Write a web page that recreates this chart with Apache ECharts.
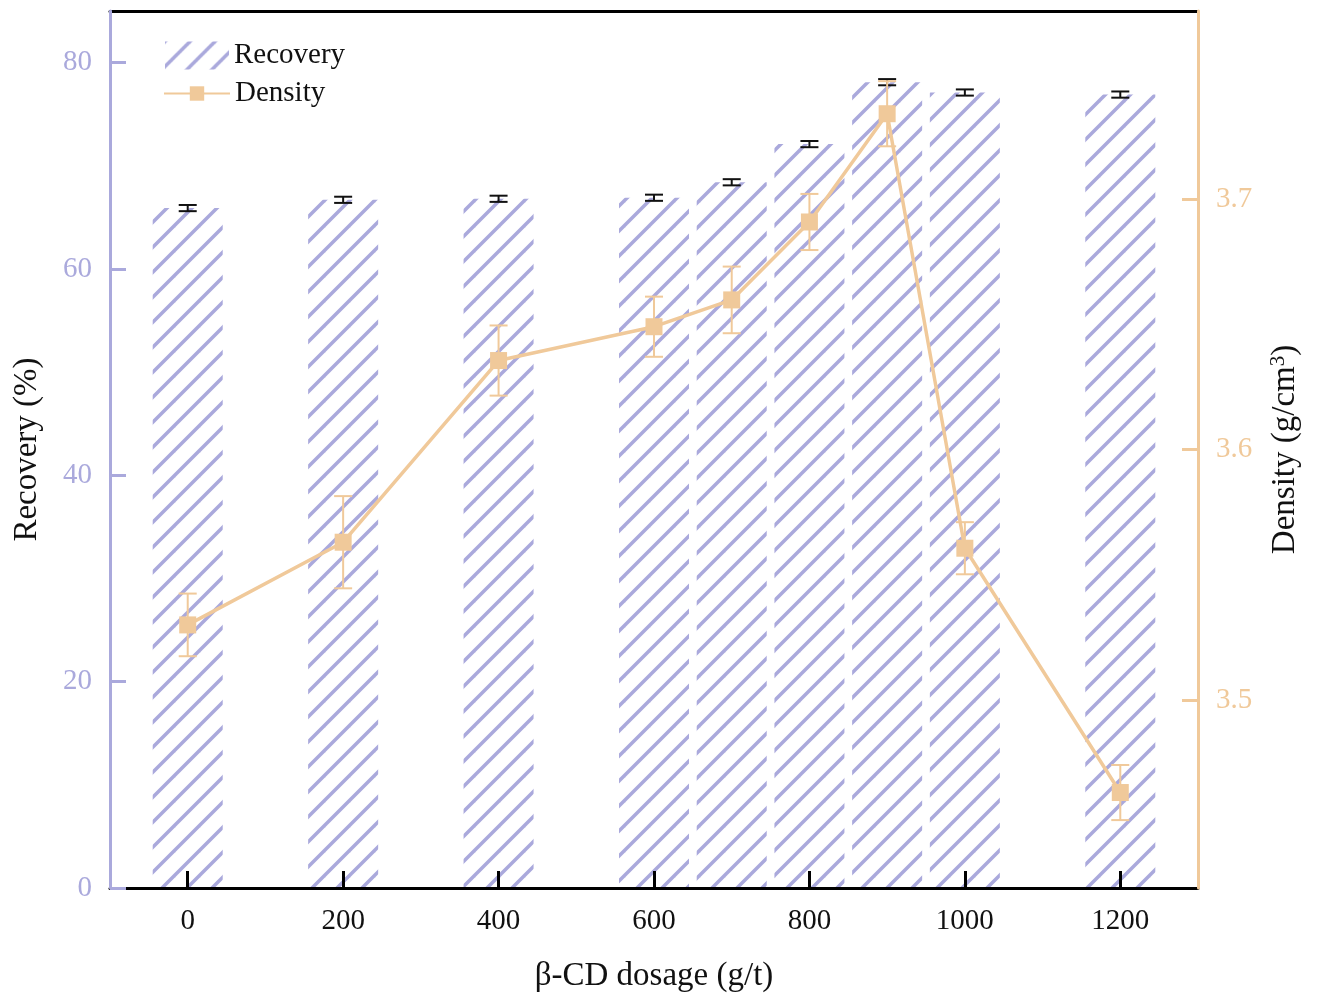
<!DOCTYPE html>
<html>
<head>
<meta charset="utf-8">
<script src="https://cdn.jsdelivr.net/npm/echarts@6/dist/echarts.min.js"></script>
<style>
html,body{margin:0;padding:0;background:#fff;}
#main{width:1319px;height:995px;}
</style>
</head>
<body>
<div id="main"></div>
<script>
const doses = [0, 200, 400, 600, 700, 800, 900, 1000, 1200];
const recovery = [65.9, 66.7, 66.8, 66.9, 68.4, 72.1, 78.1, 77.1, 76.9];
const recoveryErr = [0.3, 0.3, 0.3, 0.3, 0.3, 0.3, 0.3, 0.3, 0.3];
const density = [3.530, 3.563, 3.6355, 3.649, 3.6597, 3.6908, 3.734, 3.5606, 3.4631];
const densityErr = [0.0125, 0.0184, 0.014, 0.012, 0.0133, 0.0112, 0.013, 0.0104, 0.011];
const xTicks = [0, 200, 400, 600, 800, 1000, 1200];
const recoveryTicks = [0, 20, 40, 60, 80];
const densityTicks = [3.5, 3.6, 3.7];

const PURPLE = '#AAA9DC';
const TAN = '#F0C99A';
const FONT = 'Liberation Serif';

function makeHatch() {
  const S = 25;
  const c = document.createElement('canvas');
  c.width = S; c.height = S;
  const ctx = c.getContext('2d');
  ctx.strokeStyle = PURPLE;
  ctx.lineWidth = 3.5;
  ctx.lineCap = 'butt';
  for (let k = -1; k <= 1; k++) {
    ctx.beginPath();
    ctx.moveTo(k * S - 2, S + 2);
    ctx.lineTo(k * S + S + 2, -2);
    ctx.stroke();
  }
  return c;
}
const hatch = { image: makeHatch(), repeat: 'repeat' };

const barData = doses.map((d, i) => [d, recovery[i]]);
const lineData = doses.map((d, i) => [d, density[i]]);
const recErrData = doses.map((d, i) => [d, recovery[i] - recoveryErr[i], recovery[i] + recoveryErr[i]]);
const denErrData = doses.map((d, i) => [d, density[i] - densityErr[i], density[i] + densityErr[i]]);

function errRender(color, hw, lw) {
  return function (params, api) {
    const x = api.value(0);
    const p1 = api.coord([x, api.value(2)]);
    const p2 = api.coord([x, api.value(1)]);
    const st = { stroke: color, lineWidth: lw };
    return {
      type: 'group',
      children: [
        { type: 'line', shape: { x1: p1[0], y1: p1[1], x2: p2[0], y2: p2[1] }, style: st },
        { type: 'line', shape: { x1: p1[0] - hw, y1: p1[1], x2: p1[0] + hw, y2: p1[1] }, style: st },
        { type: 'line', shape: { x1: p2[0] - hw, y1: p2[1], x2: p2[0] + hw, y2: p2[1] }, style: st }
      ]
    };
  };
}

const chart = echarts.init(document.getElementById('main'), null, { renderer: 'canvas' });
chart.setOption({
  backgroundColor: '#fff',
  animation: false,
  textStyle: { fontFamily: FONT },
  grid: { left: 110, right: 121, top: 11, bottom: 107, containLabel: false, outerBoundsMode: 'none' },
  legend: [
    {
      data: [{ name: 'Recovery', icon: 'rect' }],
      left: 160, top: 36,
      itemWidth: 64, itemHeight: 28, itemGap: 10,
      textStyle: { fontFamily: FONT, fontSize: 29, color: '#111' }
    },
    {
      data: ['Density'],
      left: 158, top: 74,
      itemWidth: 66, itemHeight: 18, itemGap: 10,
      textStyle: { fontFamily: FONT, fontSize: 29, color: '#111' }
    }
  ],
  xAxis: [
    {
      type: 'value', min: -100, max: 1300, position: 'bottom', z: 2,
      name: 'β-CD dosage (g/t)', nameLocation: 'middle', nameGap: 72,
      nameTextStyle: { fontFamily: FONT, fontSize: 33, color: '#111' },
      axisLine: { show: true, onZero: false, lineStyle: { color: '#000', width: 3 } },
      axisTick: { show: true, inside: true, length: 17, customValues: xTicks, lineStyle: { color: '#000', width: 3 } },
      axisLabel: { customValues: xTicks, margin: 19, fontFamily: FONT, fontSize: 29, color: '#111', formatter: v => String(v) },
      splitLine: { show: false }
    },
    {
      type: 'value', min: -100, max: 1300, position: 'top', z: 2,
      axisLine: { show: true, onZero: false, lineStyle: { color: '#000', width: 3 } },
      axisTick: { show: false }, axisLabel: { show: false }, splitLine: { show: false }
    }
  ],
  yAxis: [
    {
      type: 'value', min: 0, max: 85, position: 'left', z: 3,
      name: 'Recovery (%)', nameLocation: 'middle', nameGap: 66, nameRotate: 90,
      nameTextStyle: { fontFamily: FONT, fontSize: 33, color: '#111' },
      axisLine: { show: true, onZero: false, lineStyle: { color: PURPLE, width: 3 } },
      axisTick: { show: true, inside: true, length: 16, customValues: recoveryTicks, lineStyle: { color: PURPLE, width: 3 } },
      axisLabel: { customValues: recoveryTicks, margin: 18, fontFamily: FONT, fontSize: 29, color: PURPLE },
      splitLine: { show: false }
    },
    {
      type: 'value', min: 3.425, max: 3.775, position: 'right', z: 3,
      name: '{a|Density (g/cm}{s|3}{a|)}', nameLocation: 'middle', nameGap: 70, nameRotate: 90,
      nameTextStyle: {
        rich: {
          a: { fontFamily: FONT, fontSize: 33, color: '#111' },
          s: { fontFamily: FONT, fontSize: 21, color: '#111', verticalAlign: 'top', padding: [0, 0, 14, 0] }
        }
      },
      axisLine: { show: true, onZero: false, lineStyle: { color: TAN, width: 3 } },
      axisTick: { show: true, inside: true, length: 16, customValues: densityTicks, lineStyle: { color: TAN, width: 3 } },
      axisLabel: { customValues: densityTicks, margin: 18, fontFamily: FONT, fontSize: 29, color: TAN, formatter: v => v.toFixed(1) },
      splitLine: { show: false }
    }
  ],
  series: [
    {
      name: 'Recovery', type: 'bar', xAxisIndex: 0, yAxisIndex: 0,
      data: barData, barWidth: 70, z: 1,
      itemStyle: { color: hatch }
    },
    {
      name: 'RecErr', type: 'custom', xAxisIndex: 0, yAxisIndex: 0, z: 3,
      data: recErrData, encode: { x: 0, y: [1, 2] },
      renderItem: errRender('#111', 9, 2)
    },
    {
      name: 'DenErr', type: 'custom', xAxisIndex: 0, yAxisIndex: 1, z: 4,
      data: denErrData, encode: { x: 0, y: [1, 2] },
      renderItem: errRender(TAN, 9, 2)
    },
    {
      name: 'Density', type: 'line', xAxisIndex: 0, yAxisIndex: 1, z: 5,
      data: lineData, symbol: 'rect', symbolSize: 17, showSymbol: true,
      lineStyle: { color: TAN, width: 3.5 },
      itemStyle: { color: TAN }
    }
  ]
});
</script>
</body>
</html>
